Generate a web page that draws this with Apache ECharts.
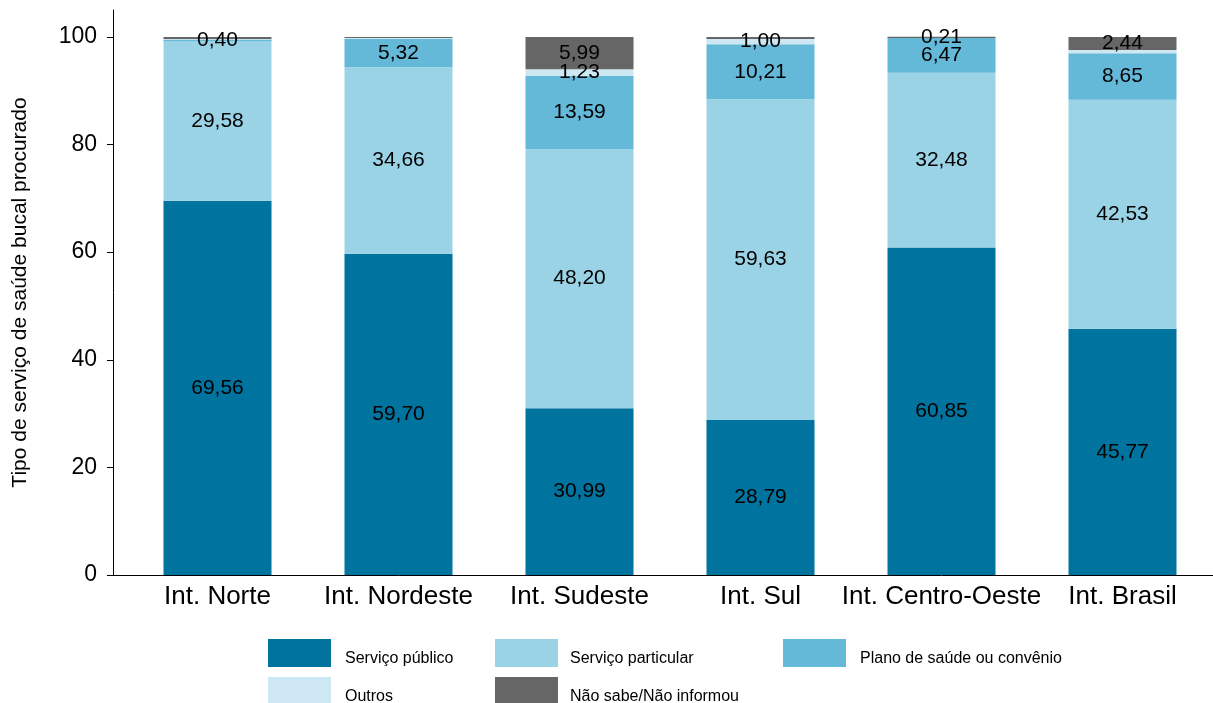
<!DOCTYPE html>
<html>
<head>
<meta charset="utf-8">
<script src="https://cdn.jsdelivr.net/npm/echarts@6/dist/echarts.min.js"></script>
<style>html,body{margin:0;padding:0;background:#fff}#c{width:1213px;height:703px}</style>
</head>
<body>
<div id="c"></div>
<script>
const categories = ['Int. Norte', 'Int. Nordeste', 'Int. Sudeste', 'Int. Sul', 'Int. Centro-Oeste', 'Int. Brasil'];
const seriesNames = ['Serviço público', 'Serviço particular', 'Plano de saúde ou convênio', 'Outros', 'Não sabe/Não informou'];
const publico    = [69.56, 59.70, 30.99, 28.79, 60.85, 45.77];
const particular = [29.58, 34.66, 48.20, 59.63, 32.48, 42.53];
const plano      = [0.40, 5.32, 13.59, 10.21, 6.47, 8.65];
const outros     = [0.06, 0.12, 1.23, 1.00, 0.00, 0.61];
const naoSabe    = [0.40, 0.20, 5.99, 0.37, 0.21, 2.44];
// which segments carry a value label in the original
const labelled = [
  [true, true, true, true, true, true],
  [true, true, true, true, true, true],
  [true, true, true, true, true, true],
  [false, false, true, true, false, false],
  [false, false, true, false, true, true]
];
const yTicks = [0, 20, 40, 60, 80, 100];

const FONT = 'Liberation Sans, Arial, sans-serif';
const colors = ['#00739e', '#9bd3e6', '#64b8d8', '#cde8f3', '#666666'];
const values = [publico, particular, plano, outros, naoSabe];

const series = seriesNames.map((name, si) => ({
  name,
  type: 'bar',
  stack: 'total',
  barWidth: 108,
  itemStyle: { color: colors[si] },
  label: {
    show: true,
    position: 'inside',
    color: '#000',
    fontSize: 21,
    fontFamily: FONT,
    formatter: p => p.value.toFixed(2).replace('.', ',')
  },
  data: values[si].map((v, i) => ({ value: v, label: { show: labelled[si][i] } }))
}));

const legendPos = [
  { left: 268, top: 639 },
  { left: 495, top: 639 },
  { left: 783, top: 639 },
  { left: 268, top: 677 },
  { left: 495, top: 677 }
];
const legendTextLeft = [9, 7, 9, 9, 7];

const legends = seriesNames.map((name, i) => ({
  data: [name],
  left: legendPos[i].left,
  top: legendPos[i].top,
  itemWidth: 63,
  itemHeight: 28,
  icon: 'rect',
  selectedMode: false,
  padding: 0,
  formatter: n => '\n' + n,
  textStyle: { fontSize: 16, lineHeight: 12, color: '#000', fontFamily: FONT, padding: [0, 0, 0, legendTextLeft[i]] }
}));

const chart = echarts.init(document.getElementById('c'), null, { renderer: 'canvas' });
chart.setOption({
  animation: false,
  backgroundColor: '#fff',
  grid: { left: 127, right: 0, top: 10, bottom: 128, containLabel: false },
  legend: legends,
  graphic: [{
    type: 'line',
    shape: { x1: 113, y1: 575.5, x2: 128, y2: 575.5 },
    style: { stroke: '#000', lineWidth: 1 }
  }],
  xAxis: {
    type: 'category',
    data: categories,
    axisLine: { lineStyle: { color: '#000', width: 1 } },
    axisTick: { show: false },
    axisLabel: { color: '#000', fontSize: 26, margin: 9, fontFamily: FONT, interval: 0 }
  },
  yAxis: {
    type: 'value',
    min: 0,
    max: 105,
    interval: 20,
    offset: 14,
    name: 'Tipo de serviço de saúde bucal procurado',
    nameLocation: 'middle',
    nameGap: 82,
    nameTextStyle: { color: '#000', fontSize: 21, fontFamily: FONT },
    axisLine: { show: true, lineStyle: { color: '#000', width: 1 } },
    axisTick: { show: true, length: 6, customValues: yTicks, lineStyle: { color: '#000' } },
    axisLabel: { color: '#000', fontSize: 23, margin: 16, customValues: yTicks, fontFamily: FONT },
    splitLine: { show: false }
  },
  series
});
</script>
</body>
</html>
